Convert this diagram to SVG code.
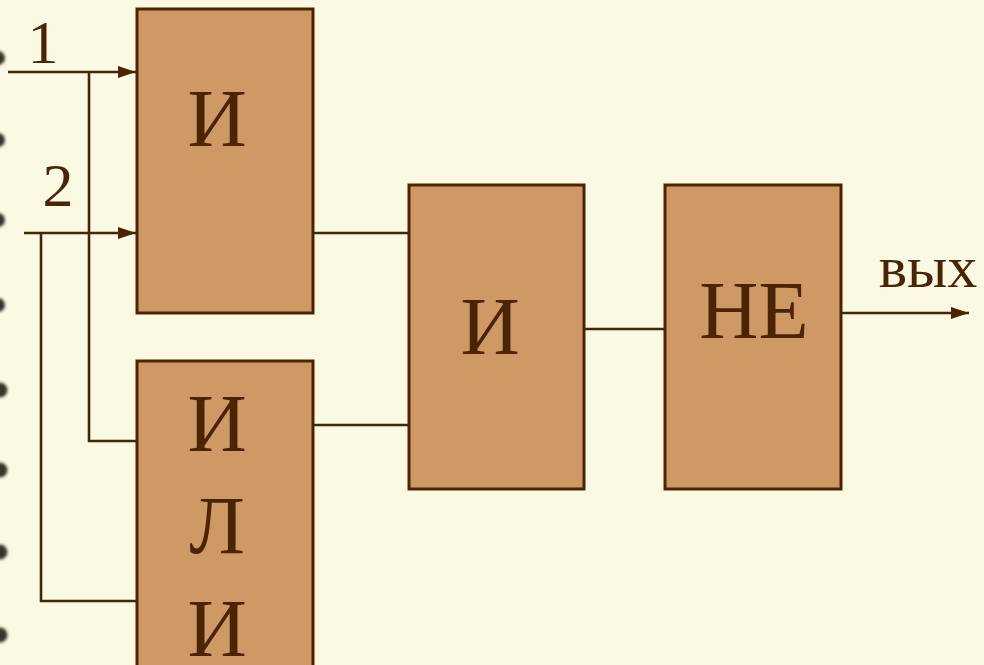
<svg xmlns="http://www.w3.org/2000/svg" width="984" height="665" viewBox="0 0 984 665">
<defs>
<style>
.box{fill:#CF9966;stroke:#4A2404;stroke-width:3}
.wire{fill:none;stroke:#4A2404;stroke-width:2.6}
.lbl{font-family:"Liberation Serif","Times New Roman",serif;fill:#4A2404;text-anchor:middle}
.big{font-size:82px}
.dot{fill:#34342c}
</style>
<marker id="arr" viewBox="0 0 18 12" refX="18" refY="6" markerWidth="18" markerHeight="12" markerUnits="userSpaceOnUse" orient="auto">
<path d="M0,0 L18,6 L0,12 z" fill="#4A2404"/>
</marker>
<filter id="blur" x="-1" y="-1" width="3" height="3"><feGaussianBlur stdDeviation="1.4"/></filter>
</defs>
<rect width="984" height="665" fill="#FAFAE4"/>
<g id="bullets" filter="url(#blur)">
<circle class="dot" cx="-2" cy="58" r="7"/>
<circle class="dot" cx="-2" cy="140" r="7"/>
<circle class="dot" cx="-2" cy="220" r="7"/>
<circle class="dot" cx="-2" cy="305" r="7"/>
<circle class="dot" cx="0" cy="390" r="7.5"/>
<circle class="dot" cx="0" cy="470" r="7.5"/>
<circle class="dot" cx="0" cy="552" r="7.5"/>
<circle class="dot" cx="0" cy="635" r="7.5"/>
</g>
<g id="connectors">
<path class="wire" d="M8,72 H136" marker-end="url(#arr)"/>
<path class="wire" d="M89,72 V441 H137"/>
<path class="wire" d="M24,233 H136" marker-end="url(#arr)"/>
<path class="wire" d="M41,233 V601 H137"/>
<path class="wire" d="M313,233 H409"/>
<path class="wire" d="M313,425 H409"/>
<path class="wire" d="M584,329 H665"/>
<path class="wire" d="M841,313 H969" marker-end="url(#arr)"/>
</g>
<g id="in1"><text class="lbl" x="43" y="63" font-size="62">1</text></g>
<g id="in2"><text class="lbl" x="58" y="206" font-size="62">2</text></g>
<g id="and1">
<rect class="box" x="137" y="9" width="176" height="304"/>
<text class="lbl big" x="217" y="146">И</text>
</g>
<g id="or1">
<rect class="box" x="137" y="361" width="176" height="310"/>
<text class="lbl big" x="217" y="451">И</text>
<text class="lbl big" x="217" y="553">Л</text>
<text class="lbl big" x="217" y="656">И</text>
</g>
<g id="and2">
<rect class="box" x="409" y="185" width="175" height="304"/>
<text class="lbl big" x="490" y="354">И</text>
</g>
<g id="not1">
<rect class="box" x="665" y="185" width="176" height="304"/>
<text class="lbl big" x="754" y="338">НЕ</text>
</g>
<g id="out"><text class="lbl" x="928" y="287" font-size="60">вых</text></g>
</svg>
